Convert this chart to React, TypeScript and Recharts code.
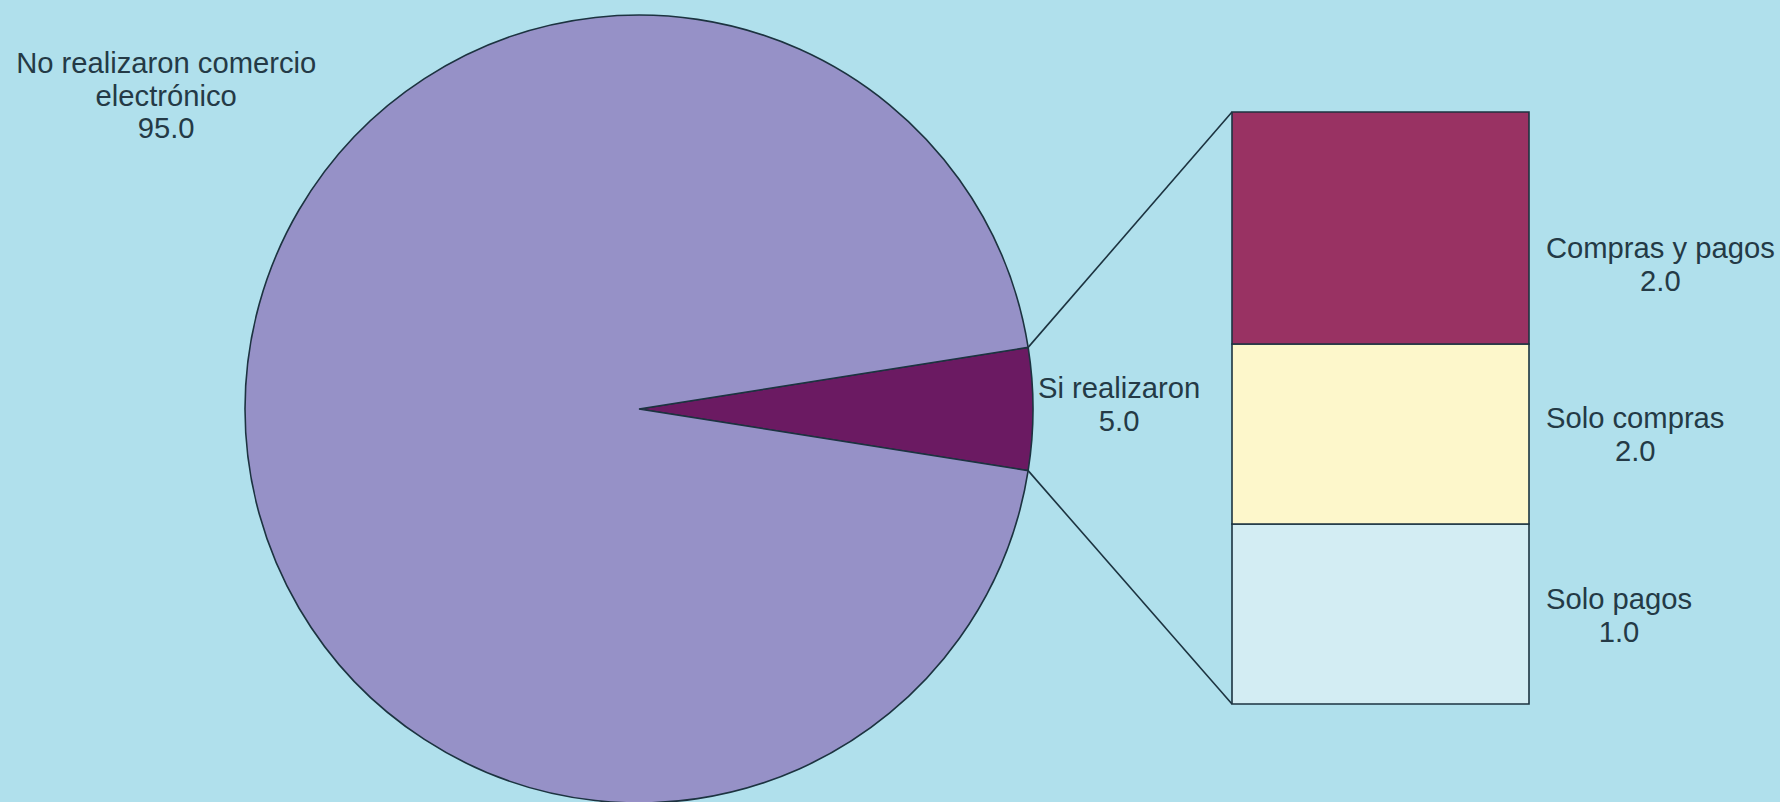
import React from 'react';
import { PieChart, Pie, Cell, BarChart, Bar, XAxis, YAxis } from 'recharts';

// Main split (percent)
const pieNames = ['Si realizaron', 'No realizaron comercio electrónico'];
const pieValues = [5.0, 95.0];

// Breakdown of "Si realizaron", bottom to top
const subNames = ['Solo pagos', 'Solo compras', 'Compras y pagos'];
const subPrinted = [1.0, 2.0, 2.0]; // values printed next to the bar
const subShares = [1.52, 1.52, 1.96]; // segment heights as drawn in the reference

const BG = '#b0e0ec';
const INK = '#243a46';
const EDGE = '#1c3340';
const FONT = '"Liberation Sans", Arial, sans-serif';
const FS = 29.2;

const PIE_COLORS = ['#6b1a62', '#9691c7'];
const SUB_COLORS = ['#d3edf3', '#fdf7cb', '#993263'];

// layout
const W = 1780;
const H = 802;
const PIE_CX = 639;
const PIE_CY = 409;
const PIE_R = 394;
const BAR_LEFT = 1232;
const BAR_TOP = 112;
const BAR_W = 297;
const BAR_H = 592;
const PAD = 2;

const pieData = pieNames.map((name, i) => ({ name, value: pieValues[i] }));
const subRow = [
  subNames.reduce((acc, n, i) => ({ ...acc, [n]: subShares[i] }), { cat: 'Si' } as Record<string, any>),
];

let ctx: CanvasRenderingContext2D | null = null;
function textWidth(s: string) {
  if (!ctx) ctx = document.createElement('canvas').getContext('2d');
  if (!ctx) return s.length * FS * 0.5;
  ctx.font = `${FS}px ${FONT}`;
  return ctx.measureText(s).width;
}

function PieLabel(props: any) {
  const { cx, cy, outerRadius, startAngle, endAngle, index } = props;
  const RAD = Math.PI / 180;
  if (index === 0) {
    const a1 = Math.min(startAngle, endAngle) * RAD;
    const a2 = Math.max(startAngle, endAngle) * RAD;
    const lowX = cx + outerRadius * Math.cos(a1);
    const lowY = cy - outerRadius * Math.sin(a1);
    const upX = cx + outerRadius * Math.cos(a2);
    const upY = cy - outerRadius * Math.sin(a2);
    const mid = cx + outerRadius + 5 + textWidth(pieNames[0]) / 2;
    return (
      <g>
        <line x1={upX} y1={upY} x2={BAR_LEFT} y2={BAR_TOP} stroke={EDGE} strokeWidth={1.6} />
        <line x1={lowX} y1={lowY} x2={BAR_LEFT} y2={BAR_TOP + BAR_H} stroke={EDGE} strokeWidth={1.6} />
        <text x={mid} y={cy - 11} textAnchor="middle" fill={INK} fontSize={FS} fontFamily={FONT}>
          <tspan x={mid}>{pieNames[0]}</tspan>
          <tspan x={mid} dy={33}>{pieValues[0].toFixed(1)}</tspan>
        </text>
      </g>
    );
  }
  const x = cx - outerRadius * 1.2;
  const y = cy - outerRadius * 0.852;
  return (
    <text x={x} y={y} textAnchor="middle" fill={INK} fontSize={FS} fontFamily={FONT}>
      <tspan x={x}>No realizaron comercio</tspan>
      <tspan x={x} dy={33}>electrónico</tspan>
      <tspan x={x} dy={32}>{pieValues[1].toFixed(1)}</tspan>
    </text>
  );
}

function segLabel(i: number) {
  return (props: any) => {
    const { x, y, width, height } = props;
    const left = x + width + 17;
    const mid = left + textWidth(subNames[i]) / 2;
    const base = y + height - 93 + (i === 2 ? 7 : i === 1 ? -3 : -2);
    return (
      <text x={mid} y={base} textAnchor="middle" fill={INK} fontSize={FS} fontFamily={FONT}>
        <tspan x={mid}>{subNames[i]}</tspan>
        <tspan x={mid} dy={33}>{subPrinted[i].toFixed(1)}</tspan>
      </text>
    );
  };
}

export default function App() {
  return (
    <div style={{ position: 'absolute', left: 0, top: 0, width: W, height: H, background: BG, overflow: 'hidden' }}>
      <PieChart width={W} height={H} margin={{ top: 0, right: 0, bottom: 0, left: 0 }}
        style={{ position: 'absolute', left: 0, top: 0 }}>
        <Pie
          data={pieData}
          dataKey="value"
          nameKey="name"
          cx={PIE_CX}
          cy={PIE_CY}
          outerRadius={PIE_R}
          startAngle={-9}
          endAngle={351}
          stroke={EDGE}
          strokeWidth={1.6}
          label={PieLabel}
          labelLine={false}
          isAnimationActive={false}
        >
          {pieData.map((d, i) => (
            <Cell key={d.name} fill={PIE_COLORS[i]} />
          ))}
        </Pie>
      </PieChart>
      <div style={{ position: 'absolute', left: BAR_LEFT - PAD, top: BAR_TOP - PAD }}>
        <BarChart
          width={W - BAR_LEFT + PAD}
          height={BAR_H + 2 * PAD}
          data={subRow}
          margin={{ top: PAD, bottom: PAD, left: PAD, right: W - BAR_LEFT - BAR_W }}
          barCategoryGap={0}
          style={{ overflow: 'visible' }}
        >
          <XAxis dataKey="cat" hide />
          <YAxis hide domain={[0, subShares.reduce((a, b) => a + b, 0)]} />
          {subNames.map((n, i) => (
            <Bar key={n} dataKey={n} stackId="s" fill={SUB_COLORS[i]} stroke={EDGE} strokeWidth={1.6}
              label={segLabel(i)} isAnimationActive={false} />
          ))}
        </BarChart>
      </div>
    </div>
  );
}
